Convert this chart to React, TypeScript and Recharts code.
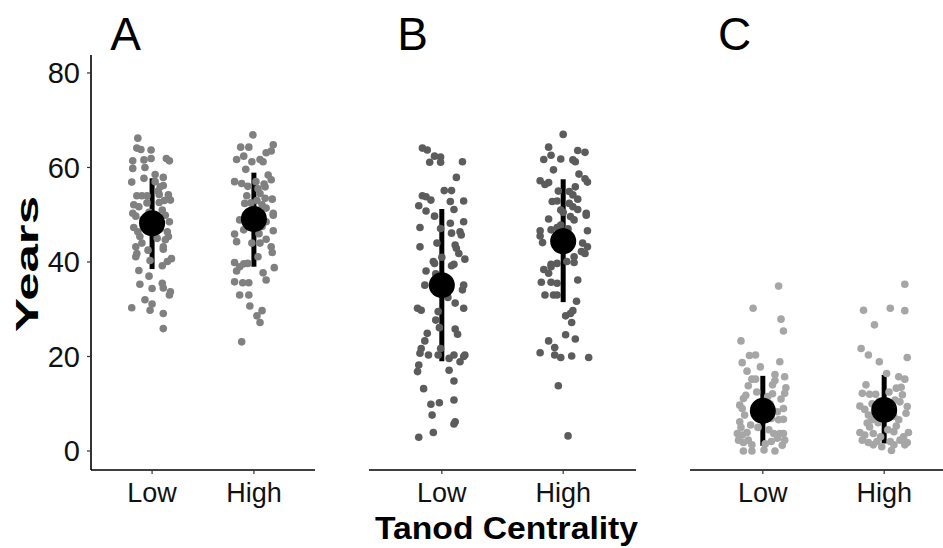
import React from 'react';
import { ScatterChart, Scatter, XAxis, YAxis, ErrorBar } from 'recharts';

const categories = ['Low', 'High'];
const yTicks = [0, 20, 40, 60, 80];
const panelLabels = ['A', 'B', 'C'];
const xTitle = 'Tanod Centrality';
const yTitle = 'Years';

// [jitter offset from category, years]
const aLow: [number, number][] = [
  [-0.14, 66.2], [-0.15, 64.1], [-0.11, 63.8], [-0.01, 63.7], [-0.19, 61.4], [-0.08, 61.6], [-0.01, 61.9], [0.14, 61.9],
  [0.17, 61.4], [-0.19, 59.8], [-0.07, 60.0], [-0.2, 56.9], [-0.08, 57.7], [0.03, 57.0], [0.11, 57.9], [0.08, 55.9],
  [0.11, 56.2], [-0.15, 54.0], [-0.1, 54.0], [-0.05, 54.0], [0.07, 54.3], [0.16, 54.2], [0.18, 53.1], [-0.18, 52.1],
  [-0.13, 51.7], [0.07, 52.6], [0.1, 51.0], [-0.19, 50.3], [-0.16, 49.7], [0.13, 49.9], [0.17, 48.5], [-0.18, 47.3],
  [-0.14, 46.4], [-0.12, 45.4], [0.15, 46.4], [0.16, 45.4], [0.13, 44.7], [-0.16, 43.2], [-0.15, 41.8], [0.11, 43.2],
  [0.11, 42.7], [-0.16, 41.1], [-0.02, 40.3], [0.1, 39.2], [0.19, 40.7], [0.15, 40.1], [-0.13, 38.2], [-0.03, 37.0],
  [-0.12, 35.3], [0.0, 34.4], [0.1, 35.5], [0.11, 34.5], [0.18, 33.7], [0.17, 33.0], [-0.2, 30.3], [-0.07, 32.0],
  [-0.02, 29.8], [0.0, 31.1], [0.11, 29.1], [0.11, 25.9], [0.02, 47.0], [-0.03, 50.5], [0.05, 45.0], [-0.05, 52.5],
  [0.06, 55.0], [-0.06, 48.0], [0.03, 58.5], [-0.09, 49.0], [0.08, 47.0], [-0.1, 44.0], [0.12, 53.0], [-0.04, 42.5],
];
const aHigh: [number, number][] = [
  [-0.01, 66.9], [-0.13, 64.3], [-0.05, 64.3], [0.19, 64.8], [0.17, 63.5], [0.12, 63.1], [-0.17, 61.7], [-0.1, 62.4],
  [-0.02, 61.2], [0.06, 61.7], [0.09, 61.2], [-0.08, 59.6], [-0.19, 57.0], [-0.12, 56.6], [0.14, 58.4], [0.17, 57.4],
  [0.11, 55.9], [-0.07, 54.0], [0.06, 54.5], [0.11, 53.5], [0.18, 53.3], [-0.09, 52.4], [0.08, 52.1], [0.12, 51.4],
  [0.19, 50.3], [-0.14, 48.9], [0.12, 48.5], [0.19, 49.9], [-0.1, 46.8], [-0.19, 45.9], [0.08, 47.5], [0.19, 46.6],
  [-0.17, 44.3], [-0.02, 44.0], [0.06, 44.0], [0.12, 44.8], [0.17, 43.2], [0.18, 42.0], [0.04, 41.1], [-0.19, 39.9],
  [-0.14, 39.0], [-0.1, 39.6], [-0.06, 39.7], [-0.17, 38.1], [0.09, 37.7], [0.2, 38.8], [0.12, 36.2], [-0.19, 35.8],
  [-0.11, 35.6], [-0.05, 35.6], [-0.14, 33.0], [-0.05, 33.0], [-0.04, 30.7], [0.08, 29.7], [0.03, 28.6], [0.06, 27.2],
  [-0.12, 23.1], [0.01, 50.0], [-0.04, 48.0], [0.05, 46.0], [-0.03, 52.5], [0.04, 55.5], [0.02, 57.0], [-0.05, 50.5],
  [0.07, 49.0], [0.1, 56.5], [-0.06, 56.0], [0.03, 53.0],
];
const bLow: [number, number][] = [
  [-0.16, 64.1], [-0.12, 63.7], [-0.06, 62.4], [-0.01, 62.2], [-0.1, 61.1], [-0.01, 61.1], [0.17, 61.2], [0.12, 57.9],
  [0.02, 55.1], [0.08, 55.1], [-0.16, 54.0], [-0.13, 53.8], [-0.09, 53.1], [0.07, 52.8], [0.18, 52.9], [-0.19, 51.9],
  [-0.13, 50.8], [0.1, 51.1], [-0.06, 49.7], [-0.01, 47.1], [0.07, 48.2], [0.18, 48.5], [-0.18, 47.3], [0.08, 46.1],
  [0.15, 46.4], [0.16, 45.7], [-0.18, 43.2], [0.11, 43.6], [0.12, 42.9], [0.14, 41.8], [0.19, 40.6], [-0.07, 40.1],
  [-0.06, 39.7], [0.08, 39.2], [0.1, 39.5], [-0.13, 38.1], [-0.14, 35.1], [-0.04, 35.8], [0.17, 34.1], [0.18, 35.1],
  [0.11, 31.3], [-0.2, 30.2], [-0.17, 29.8], [0.18, 30.2], [-0.03, 29.5], [-0.05, 27.7], [-0.02, 26.1], [0.11, 25.8],
  [0.13, 24.7], [-0.12, 24.9], [-0.14, 23.3], [-0.17, 21.7], [-0.18, 20.7], [-0.11, 20.3], [-0.03, 20.3], [-0.01, 21.7],
  [0.06, 19.6], [0.1, 20.3], [0.15, 18.9], [0.18, 20.0], [0.19, 20.3], [-0.19, 18.2], [-0.2, 16.8], [0.06, 17.1],
  [0.1, 14.8], [-0.15, 13.2], [-0.09, 9.9], [-0.02, 10.2], [0.1, 10.8], [-0.08, 7.6], [0.11, 6.2], [0.1, 5.7],
  [-0.07, 3.9], [-0.19, 2.9], [-0.02, 33.5], [0.03, 36.5], [-0.05, 37.5], [0.05, 32.5], [0.0, 41.0], [-0.04, 44.0],
];
const bHigh: [number, number][] = [
  [0.0, 67.0], [-0.12, 64.3], [-0.1, 62.6], [-0.16, 61.7], [-0.02, 61.8], [0.12, 63.6], [0.18, 63.2], [0.08, 61.6],
  [0.1, 61.2], [-0.08, 59.5], [0.13, 58.6], [0.18, 57.6], [0.2, 56.9], [-0.19, 57.2], [-0.12, 56.8], [-0.15, 56.4],
  [0.1, 55.9], [0.05, 54.9], [0.08, 54.2], [0.12, 53.3], [-0.09, 52.8], [-0.05, 52.9], [0.05, 52.4], [0.08, 51.7],
  [0.12, 51.1], [-0.02, 51.0], [0.19, 50.3], [0.19, 49.9], [0.06, 49.6], [0.09, 48.9], [-0.12, 49.1], [-0.02, 47.8],
  [-0.05, 47.3], [-0.1, 46.8], [-0.19, 46.6], [0.2, 46.6], [-0.19, 45.5], [-0.17, 44.1], [0.16, 44.0], [0.2, 43.2],
  [0.18, 41.8], [0.15, 42.2], [0.09, 41.1], [0.09, 39.9], [0.03, 40.1], [-0.1, 39.5], [-0.05, 39.7], [-0.1, 39.0],
  [-0.16, 38.4], [-0.12, 37.6], [0.12, 36.2], [-0.18, 35.7], [-0.1, 35.7], [-0.05, 35.5], [-0.15, 33.0], [-0.08, 33.0],
  [-0.05, 33.0], [0.11, 31.7], [0.08, 29.7], [0.06, 29.1], [0.02, 28.6], [0.07, 27.2], [0.02, 24.6], [0.1, 23.7],
  [-0.12, 23.3], [-0.07, 21.9], [-0.19, 20.8], [-0.07, 20.3], [-0.02, 19.8], [0.07, 20.1], [0.21, 19.8], [-0.04, 13.8],
  [0.04, 3.2], [0.02, 45.5], [-0.03, 43.0], [0.04, 47.0], [0.0, 50.5], [-0.04, 55.0],
];
const cLow: [number, number][] = [
  [0.13, 34.9], [-0.08, 30.2], [0.15, 27.9], [0.17, 25.4], [-0.18, 23.3], [-0.11, 20.2], [-0.06, 20.3], [-0.17, 18.7],
  [-0.02, 17.8], [0.14, 18.9], [-0.13, 16.9], [0.1, 16.2], [0.18, 15.7], [-0.09, 15.2], [-0.06, 15.2], [0.1, 14.9],
  [-0.12, 13.8], [0.19, 13.4], [0.18, 12.2], [0.08, 12.1], [-0.16, 11.1], [-0.19, 9.7], [-0.17, 9.0], [0.06, 10.0],
  [0.17, 9.0], [0.12, 8.3], [-0.15, 7.6], [-0.19, 6.2], [0.07, 6.9], [0.17, 6.7], [0.13, 6.6], [-0.21, 3.7],
  [-0.17, 3.4], [-0.13, 3.9], [-0.12, 2.3], [0.09, 3.7], [0.14, 3.7], [0.17, 3.7], [0.18, 2.3], [-0.2, 2.3],
  [-0.16, 1.8], [-0.09, 1.3], [0.07, 2.0], [0.12, 2.7], [-0.16, 0.0], [-0.09, 0.0], [0.01, 0.2], [0.1, 0.0],
  [-0.04, 5.0], [0.04, 11.5], [-0.05, 12.5], [0.05, 4.5], [-0.1, 5.5], [0.02, 1.5], [-0.14, 11.8], [0.15, 11.0],
  [-0.18, 5.0], [0.16, 1.2], [-0.06, 9.5], [0.08, 14.0],
];
const cHigh: [number, number][] = [
  [0.17, 35.3], [-0.17, 29.8], [0.05, 30.2], [0.17, 29.7], [-0.08, 26.7], [-0.19, 21.7], [-0.13, 20.3], [-0.04, 18.9],
  [0.19, 19.8], [0.12, 15.7], [0.17, 15.2], [0.02, 16.4], [0.1, 13.3], [-0.18, 12.2], [-0.12, 12.0], [-0.07, 12.0],
  [0.15, 11.9], [-0.2, 9.5], [-0.16, 8.8], [0.19, 9.4], [0.18, 8.0], [0.13, 10.4], [-0.13, 7.6], [0.08, 7.3],
  [0.12, 6.6], [-0.1, 6.6], [-0.14, 5.9], [-0.12, 5.1], [0.1, 5.3], [-0.2, 3.9], [-0.16, 3.4], [-0.09, 3.7],
  [-0.03, 3.0], [0.08, 4.1], [0.2, 3.9], [0.16, 3.0], [-0.18, 2.3], [-0.13, 1.8], [-0.06, 2.0], [0.05, 2.0],
  [0.13, 2.3], [0.19, 1.8], [-0.09, 1.3], [-0.02, 0.9], [0.08, 1.3], [0.17, 1.3], [0.06, 0.1], [-0.04, 10.5],
  [0.04, 12.5], [-0.05, 6.0], [0.03, 4.5], [-0.1, 10.0], [0.14, 13.5], [-0.15, 14.0], [0.09, 10.8], [-0.07, 8.5],
];

// mean and interval per category (Low, High)
const aMean = [48.2, 49.1];
const aLower = [38.5, 39.0];
const aUpper = [57.7, 58.9];
const bMean = [35.1, 44.4];
const bLower = [19.0, 31.5];
const bUpper = [51.2, 57.5];
const cMean = [8.5, 8.7];
const cLower = [1.1, 1.6];
const cUpper = [15.9, 16.1];

const FONT = '"Liberation Sans", Arial, Helvetica, sans-serif';

function toPoints(low: [number, number][], high: [number, number][]) {
  return [
    ...low.map(([j, v]) => ({ x: 0 + j, y: v })),
    ...high.map(([j, v]) => ({ x: 1 + j, y: v })),
  ];
}

function toMeans(mean: number[], lower: number[], upper: number[]) {
  return mean.map((m, i) => ({ x: i, y: m, err: [m - lower[i], upper[i] - m] }));
}

type PanelProps = {
  left: number;
  width: number;
  marginLeft: number;
  marginRight: number;
  showY: boolean;
  color: string;
  points: { x: number; y: number }[];
  means: { x: number; y: number; err: number[] }[];
};

function Panel({ left, width, marginLeft, marginRight, showY, color, points, means }: PanelProps) {
  return (
    <div style={{ position: 'absolute', left, top: 0 }}>
      <ScatterChart
        width={width}
        height={548}
        margin={{ top: 55, right: marginRight, bottom: 38, left: marginLeft }}
      >
        <XAxis
          type="number"
          dataKey="x"
          domain={[-0.6, 1.6]}
          ticks={[0, 1]}
          allowDataOverflow
          tickFormatter={(v: number) => categories[Math.round(v)]}
          height={40}
          axisLine={{ stroke: '#000', strokeWidth: 1.6 }}
          tickLine={{ stroke: '#333', strokeWidth: 1.2 }}
          tickSize={4}
          tickMargin={9}
          tick={{ fill: '#111', fontSize: 27, fontFamily: FONT }}
        />
        <YAxis
          type="number"
          dataKey="y"
          domain={[-4.02, 83.8]}
          ticks={yTicks}
          allowDataOverflow
          hide={!showY}
          width={60}
          axisLine={{ stroke: '#000', strokeWidth: 1.6 }}
          tickLine={{ stroke: '#333', strokeWidth: 1.2 }}
          tickSize={4}
          tickMargin={7}
          tick={{ fill: '#111', fontSize: 29, fontFamily: FONT }}
        />
        <Scatter
          data={points}
          fill={color}
          isAnimationActive={false}
          shape={(p: any) => <circle cx={p.cx} cy={p.cy} r={3.8} fill={color} />}
        />
        <Scatter
          data={means}
          fill="#000"
          isAnimationActive={false}
          shape={(p: any) => <circle cx={p.cx} cy={p.cy} r={13} fill="#000" />}
        >
          <ErrorBar dataKey="err" direction="y" width={0} strokeWidth={5} stroke="#000" isAnimationActive={false} />
        </Scatter>
      </ScatterChart>
    </div>
  );
}

export default function App() {
  const labelX = [125.5, 412.5, 734.5];
  return (
    <div
      style={{
        position: 'absolute',
        left: 0,
        top: 0,
        width: 943,
        height: 548,
        overflow: 'hidden',
        background: '#fff',
      }}
    >
      <Panel left={0} width={330} marginLeft={31} marginRight={15} showY color="#808080"
        points={toPoints(aLow, aHigh)} means={toMeans(aMean, aLower, aUpper)} />
      <Panel left={360} width={290} marginLeft={9} marginRight={14} showY={false} color="#5c5c5c"
        points={toPoints(bLow, bHigh)} means={toMeans(bMean, bLower, bUpper)} />
      <Panel left={680} width={290} marginLeft={10} marginRight={13} showY={false} color="#a6a6a6"
        points={toPoints(cLow, cHigh)} means={toMeans(cMean, cLower, cUpper)} />
      <svg width={943} height={548} style={{ position: 'absolute', left: 0, top: 0, pointerEvents: 'none' }}>
        {panelLabels.map((l, i) => (
          <text key={l} x={labelX[i]} y={50} textAnchor="middle" fontSize={46} fontFamily={FONT} fill="#000">
            {l}
          </text>
        ))}
        <text
          x={38}
          y={264}
          transform="rotate(-90 38 264)"
          textAnchor="middle"
          fontSize={32}
          fontWeight="bold"
          fontFamily={FONT}
          fill="#000"
          textLength={136}
          lengthAdjust="spacingAndGlyphs"
        >
          {yTitle}
        </text>
        <text
          x={506.5}
          y={539}
          textAnchor="middle"
          fontSize={31}
          fontWeight="bold"
          fontFamily={FONT}
          fill="#000"
          textLength={263}
          lengthAdjust="spacingAndGlyphs"
        >
          {xTitle}
        </text>
      </svg>
    </div>
  );
}
